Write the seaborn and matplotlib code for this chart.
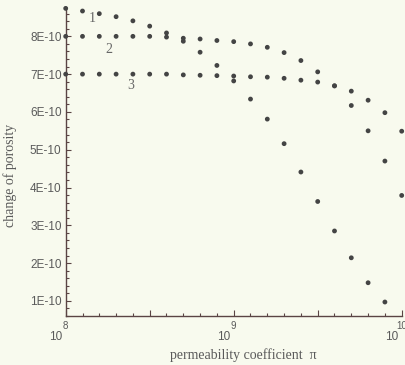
import numpy as np
import pandas as pd
import seaborn as sns
from matplotlib import pyplot as plt
from matplotlib import ticker
import matplotlib.transforms as mtransforms

# permeability coefficient, as log10 values (10^8 ... 10^10)
log_k = [8.0, 8.1, 8.2, 8.3, 8.4, 8.5, 8.6, 8.7, 8.8, 8.9, 9.0,
         9.1, 9.2, 9.3, 9.4, 9.5, 9.6, 9.7, 9.8, 9.9, 10.0]

# change of porosity, in units of 1E-10
porosity_1 = [8.74, 8.67, 8.60, 8.52, 8.41, 8.27, 8.09, 7.95, 7.93, 7.89, 7.86,
              7.80, 7.71, 7.57, 7.36, 7.06, 6.69, 6.17, 5.50, 4.70, 3.79]
porosity_2 = [8.00, 8.00, 8.00, 8.00, 8.00, 8.00, 7.98, 7.87, 7.58, 7.23, 6.82,
              6.34, 5.81, 5.16, 4.41, 3.63, 2.85, 2.14, 1.48, 0.97]
porosity_3 = [7.00, 7.00, 7.00, 7.00, 7.00, 7.00, 7.00, 6.98, 6.97, 6.96, 6.95,
              6.93, 6.92, 6.89, 6.84, 6.79, 6.69, 6.55, 6.31, 5.98, 5.49]

curve_names = ['1', '2', '3']
curve_label_pos = {'1': (8.157, 8.47), '2': (8.258, 7.64), '3': (8.386, 6.70)}

y_ticks = [1, 2, 3, 4, 5, 6, 7, 8]
x_tick_exps = [8, 9, 10]

frames = []
for name, vals in zip(curve_names, [porosity_1, porosity_2, porosity_3]):
    frames.append(pd.DataFrame({
        'k': 10 ** np.array(log_k[:len(vals)]),
        'phi': np.array(vals) * 1e-10,
        'curve': name,
    }))
df = pd.concat(frames, ignore_index=True)

bg = '#f8faee'
axis_color = '#5a4444'
dot_color = '#444444'
text_color = '#5a5a5a'

sns.set_style('ticks')
plt.rcParams['font.family'] = ['Liberation Sans', 'DejaVu Sans']

fig = plt.figure(figsize=(4.06, 3.65), dpi=100)
fig.patch.set_facecolor(bg)
ax = fig.add_axes([65.7 / 406, 1 - 316 / 365, 336 / 406, 308 / 365])
ax.set_facecolor(bg)

sns.scatterplot(data=df, x='k', y='phi', hue='curve',
                palette={n: dot_color for n in curve_names},
                s=12, edgecolor='none', legend=False, ax=ax, clip_on=False, zorder=3)

ax.set_xscale('log')
ax.set_xlim(1e8, 1e10)
ax.set_ylim(0.6e-10, 8.75e-10)

ax.xaxis.set_major_locator(ticker.FixedLocator(10 ** np.arange(8, 10.01, 0.5)))
ax.xaxis.set_minor_locator(ticker.FixedLocator(10 ** np.arange(8, 10.01, 0.1)))
ax.xaxis.set_major_formatter(ticker.NullFormatter())
ax.xaxis.set_minor_formatter(ticker.NullFormatter())

ax.yaxis.set_major_locator(ticker.FixedLocator([v * 1e-10 for v in y_ticks]))
ax.yaxis.set_minor_locator(ticker.MultipleLocator(0.2e-10))
ax.yaxis.set_major_formatter(ticker.FuncFormatter(lambda v, p: f'{v / 1e-10:.0f}E-10'))

sns.despine(ax=ax)
for side in ['left', 'bottom']:
    ax.spines[side].set_color(axis_color)
    ax.spines[side].set_linewidth(1.0)

ax.tick_params(which='both', direction='in', color=axis_color, width=0.8)
ax.tick_params(axis='x', which='major', length=4.5)
ax.tick_params(axis='x', which='minor', length=2.2)
ax.tick_params(axis='y', which='major', length=3.6, pad=3,
               labelsize=8.5, labelcolor=text_color)
ax.tick_params(axis='y', which='minor', length=1.8)

# x tick labels drawn as "10" with the exponent raised above
trans = mtransforms.blended_transform_factory(ax.transData, ax.transAxes)
for e in x_tick_exps:
    t_base = mtransforms.offset_copy(trans, fig=fig, x=-3, y=-15, units='dots')
    t_exp = mtransforms.offset_copy(trans, fig=fig, x=0, y=-5, units='dots')
    ax.text(10 ** e, 0, '10', transform=t_base, ha='right', va='top',
            fontsize=8.5, color=text_color, clip_on=False)
    ax.text(10 ** e, 0, str(e), transform=t_exp, ha='center', va='top',
            fontsize=7, color=text_color, clip_on=False)

for name in curve_names:
    lx, ly = curve_label_pos[name]
    ax.text(10 ** lx, ly * 1e-10, name, ha='center', va='center',
            family='Liberation Serif', fontsize=10, color='#666666')

ax.set_xlabel('permeability coefficient  π', family='Liberation Serif',
              fontsize=10, color='#5a5a5a')
ax.xaxis.set_label_coords(0.528, -0.104)
ax.set_ylabel('change of porosity', family='Liberation Serif',
              fontsize=10, color='#5a5a5a')
ax.yaxis.set_label_coords(-0.145, 0.458)

fig.savefig('out.png', dpi=100, facecolor=bg)
